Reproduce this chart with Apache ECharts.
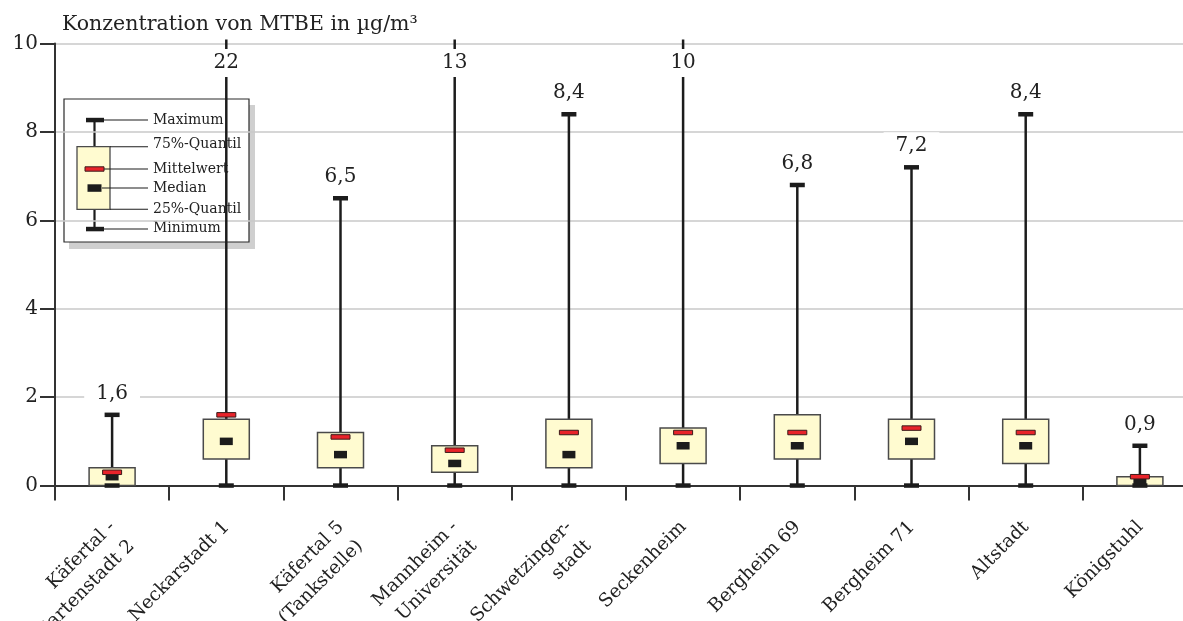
<!DOCTYPE html>
<html>
<head>
<meta charset="utf-8">
<script src="https://cdn.jsdelivr.net/npm/echarts@6/dist/echarts.min.js"></script>
<style>
html,body{margin:0;padding:0;background:#fff;}
#chart{width:1183px;height:621px;}
</style>
</head>
<body>
<div id="chart"></div>
<script>
// ---- data ----
const categories = ['Käfertal -\nGartenstadt 2', 'Neckarstadt 1', 'Käfertal 5\n(Tankstelle)', 'Mannheim -\nUniversität', 'Schwetzinger-\nstadt', 'Seckenheim', 'Bergheim 69', 'Bergheim 71', 'Altstadt', 'Königstuhl'];
const minimum = [0, 0, 0, 0, 0, 0, 0, 0, 0, 0];
const quantil25 = [0, 0.6, 0.4, 0.3, 0.4, 0.5, 0.6, 0.6, 0.5, 0];
const median = [0.2, 1.0, 0.7, 0.5, 0.7, 0.9, 0.9, 1.0, 0.9, 0.08];
const mittelwert = [0.3, 1.6, 1.1, 0.8, 1.2, 1.2, 1.2, 1.3, 1.2, 0.2];
const quantil75 = [0.4, 1.5, 1.2, 0.9, 1.5, 1.3, 1.6, 1.5, 1.5, 0.2];
const maximum = [1.6, 22, 6.5, 13, 8.4, 10, 6.8, 7.2, 8.4, 0.9];
const yTicks = [0, 2, 4, 6, 8, 10];

const FONT = 'DejaVu Serif';
const DARK = '#1c1c1c';
const BOXFILL = '#fffbd0';
const BOXSTROKE = '#4a4a4a';
const RED = '#e8232a';
const YMAX = 10;

const seriesData = categories.map((c, i) => [i, minimum[i], quantil25[i], median[i], mittelwert[i], quantil75[i], maximum[i]]);

function renderItem(params, api) {
  const i = api.value(0);
  const x = api.coord([i, 0])[0];
  const y = v => api.coord([i, v])[1];
  const yTop = y(YMAX);
  const mn = api.value(1), q1 = api.value(2), med = api.value(3), mw = api.value(4), q3 = api.value(5), mx = api.value(6);
  const clipped = mx >= YMAX;
  const yMaxPix = clipped ? yTop - 4 : y(mx);
  const children = [];
  children.push({type: 'line', shape: {x1: x, y1: y(mn), x2: x, y2: yMaxPix}, style: {stroke: DARK, lineWidth: 2.5}});
  children.push({type: 'rect', shape: {x: x - 23, y: y(q3), width: 46, height: y(q1) - y(q3)}, style: {fill: BOXFILL, stroke: BOXSTROKE, lineWidth: 1.5}});
  children.push({type: 'rect', shape: {x: x - 7.5, y: y(mn) - 2.2, width: 15, height: 4.5}, style: {fill: DARK}});
  children.push({type: 'rect', shape: {x: x - 6.5, y: y(med) - 3.7, width: 13, height: 7.5}, style: {fill: DARK}});
  children.push({type: 'rect', shape: {x: x - 9.5, y: y(mw) - 2.2, width: 19, height: 4.5}, style: {fill: RED, stroke: '#3a1a1a', lineWidth: 1}});
  if (!clipped) {
    children.push({type: 'rect', shape: {x: x - 7.5, y: y(mx) - 2.2, width: 15, height: 4.5}, style: {fill: DARK}});
  }
  const label = String(mx).replace('.', ',');
  children.push({type: 'text', style: {
    text: label, x: x, y: clipped ? yTop + 19.5 : y(mx) - 21,
    align: 'center', verticalAlign: 'middle',
    font: '20px "' + FONT + '"', fill: '#222',
    backgroundColor: '#fff', padding: [4, 12]
  }});
  return {type: 'group', children: children};
}

// legend graphic
const LX = 94.5;
const legendItems = [
  {text: 'Maximum', y: 120, ly: 120, fromX: 104},
  {text: '75%-Quantil', y: 144.5, ly: 146.7, fromX: 110},
  {text: 'Mittelwert', y: 169, ly: 169, fromX: 104},
  {text: 'Median', y: 188.5, ly: 188, fromX: 102},
  {text: '25%-Quantil', y: 209.5, ly: 209.3, fromX: 110},
  {text: 'Minimum', y: 228.5, ly: 229, fromX: 104}
];
const legendChildren = [
  {type: 'rect', shape: {x: 69, y: 105, width: 186, height: 144}, style: {fill: '#cfcfcf'}},
  {type: 'rect', shape: {x: 64, y: 99, width: 185, height: 143}, style: {fill: '#fff', stroke: '#2a2a2a', lineWidth: 1.2}},
  {type: 'line', shape: {x1: LX, y1: 120, x2: LX, y2: 229}, style: {stroke: DARK, lineWidth: 2.2}},
  {type: 'rect', shape: {x: 77, y: 146.7, width: 33, height: 62.6}, style: {fill: BOXFILL, stroke: BOXSTROKE, lineWidth: 1.3}},
  {type: 'rect', shape: {x: 86, y: 117.8, width: 18, height: 4.5}, style: {fill: DARK}},
  {type: 'rect', shape: {x: 86, y: 226.8, width: 18, height: 4.5}, style: {fill: DARK}},
  {type: 'rect', shape: {x: 85, y: 166.8, width: 19, height: 4.4}, style: {fill: RED, stroke: '#3a1a1a', lineWidth: 1}},
  {type: 'rect', shape: {x: 87.5, y: 184.3, width: 14, height: 7.5}, style: {fill: DARK}}
];
legendItems.forEach(it => {
  legendChildren.push({type: 'line', shape: {x1: it.fromX, y1: it.ly, x2: 148, y2: it.ly}, style: {stroke: DARK, lineWidth: 1.1}});
  legendChildren.push({type: 'text', style: {text: it.text, x: 153, y: it.y, verticalAlign: 'middle', font: '14px "' + FONT + '"', fill: '#222'}});
});

const chart = echarts.init(document.getElementById('chart'), null, {renderer: 'canvas'});
chart.setOption({
  animation: false,
  backgroundColor: '#fff',
  grid: {left: 55, right: -14, top: 43.5, bottom: 135.5, containLabel: false, outerBoundsMode: 'none'},
  xAxis: {
    type: 'category',
    data: categories,
    boundaryGap: true,
    axisLine: {show: true, lineStyle: {color: '#333', width: 2}},
    axisTick: {show: true, length: 15, alignWithLabel: false, lineStyle: {color: '#333', width: 2}},
    axisLabel: {rotate: 45, margin: 20, interval: 0, fontFamily: FONT, fontSize: 18.5, color: '#222',
      lineHeight: 27, align: 'right', verticalAlign: 'top', padding: [0, 13, 0, 0]},
    splitLine: {show: false}
  },
  yAxis: {
    type: 'value',
    min: 0, max: 10, interval: 2,
    axisLine: {show: true, lineStyle: {color: '#333', width: 2}},
    axisTick: {show: true, length: 15, inside: false, lineStyle: {color: '#333', width: 2}},
    axisLabel: {margin: 17, fontFamily: FONT, fontSize: 20, color: '#222',
      formatter: v => yTicks.includes(v) ? String(v) : ''},
    splitLine: {show: true, lineStyle: {color: '#c8c8c8', width: 1.5}}
  },
  graphic: [
    {type: 'text', left: 62, top: 14, z: 100, style: {text: 'Konzentration von MTBE in µg/m³', font: '20.5px "' + FONT + '"', fill: '#222'}},
    {type: 'group', z: 100, left: 0, top: 0, bounding: 'raw', children: legendChildren.map(c => Object.assign({}, c))}
  ],
  series: [{
    type: 'custom',
    renderItem: renderItem,
    clip: false,
    encode: {x: 0, y: [1, 2, 3, 4, 5, 6]},
    data: seriesData,
    z: 5
  }]
});
</script>
</body>
</html>
